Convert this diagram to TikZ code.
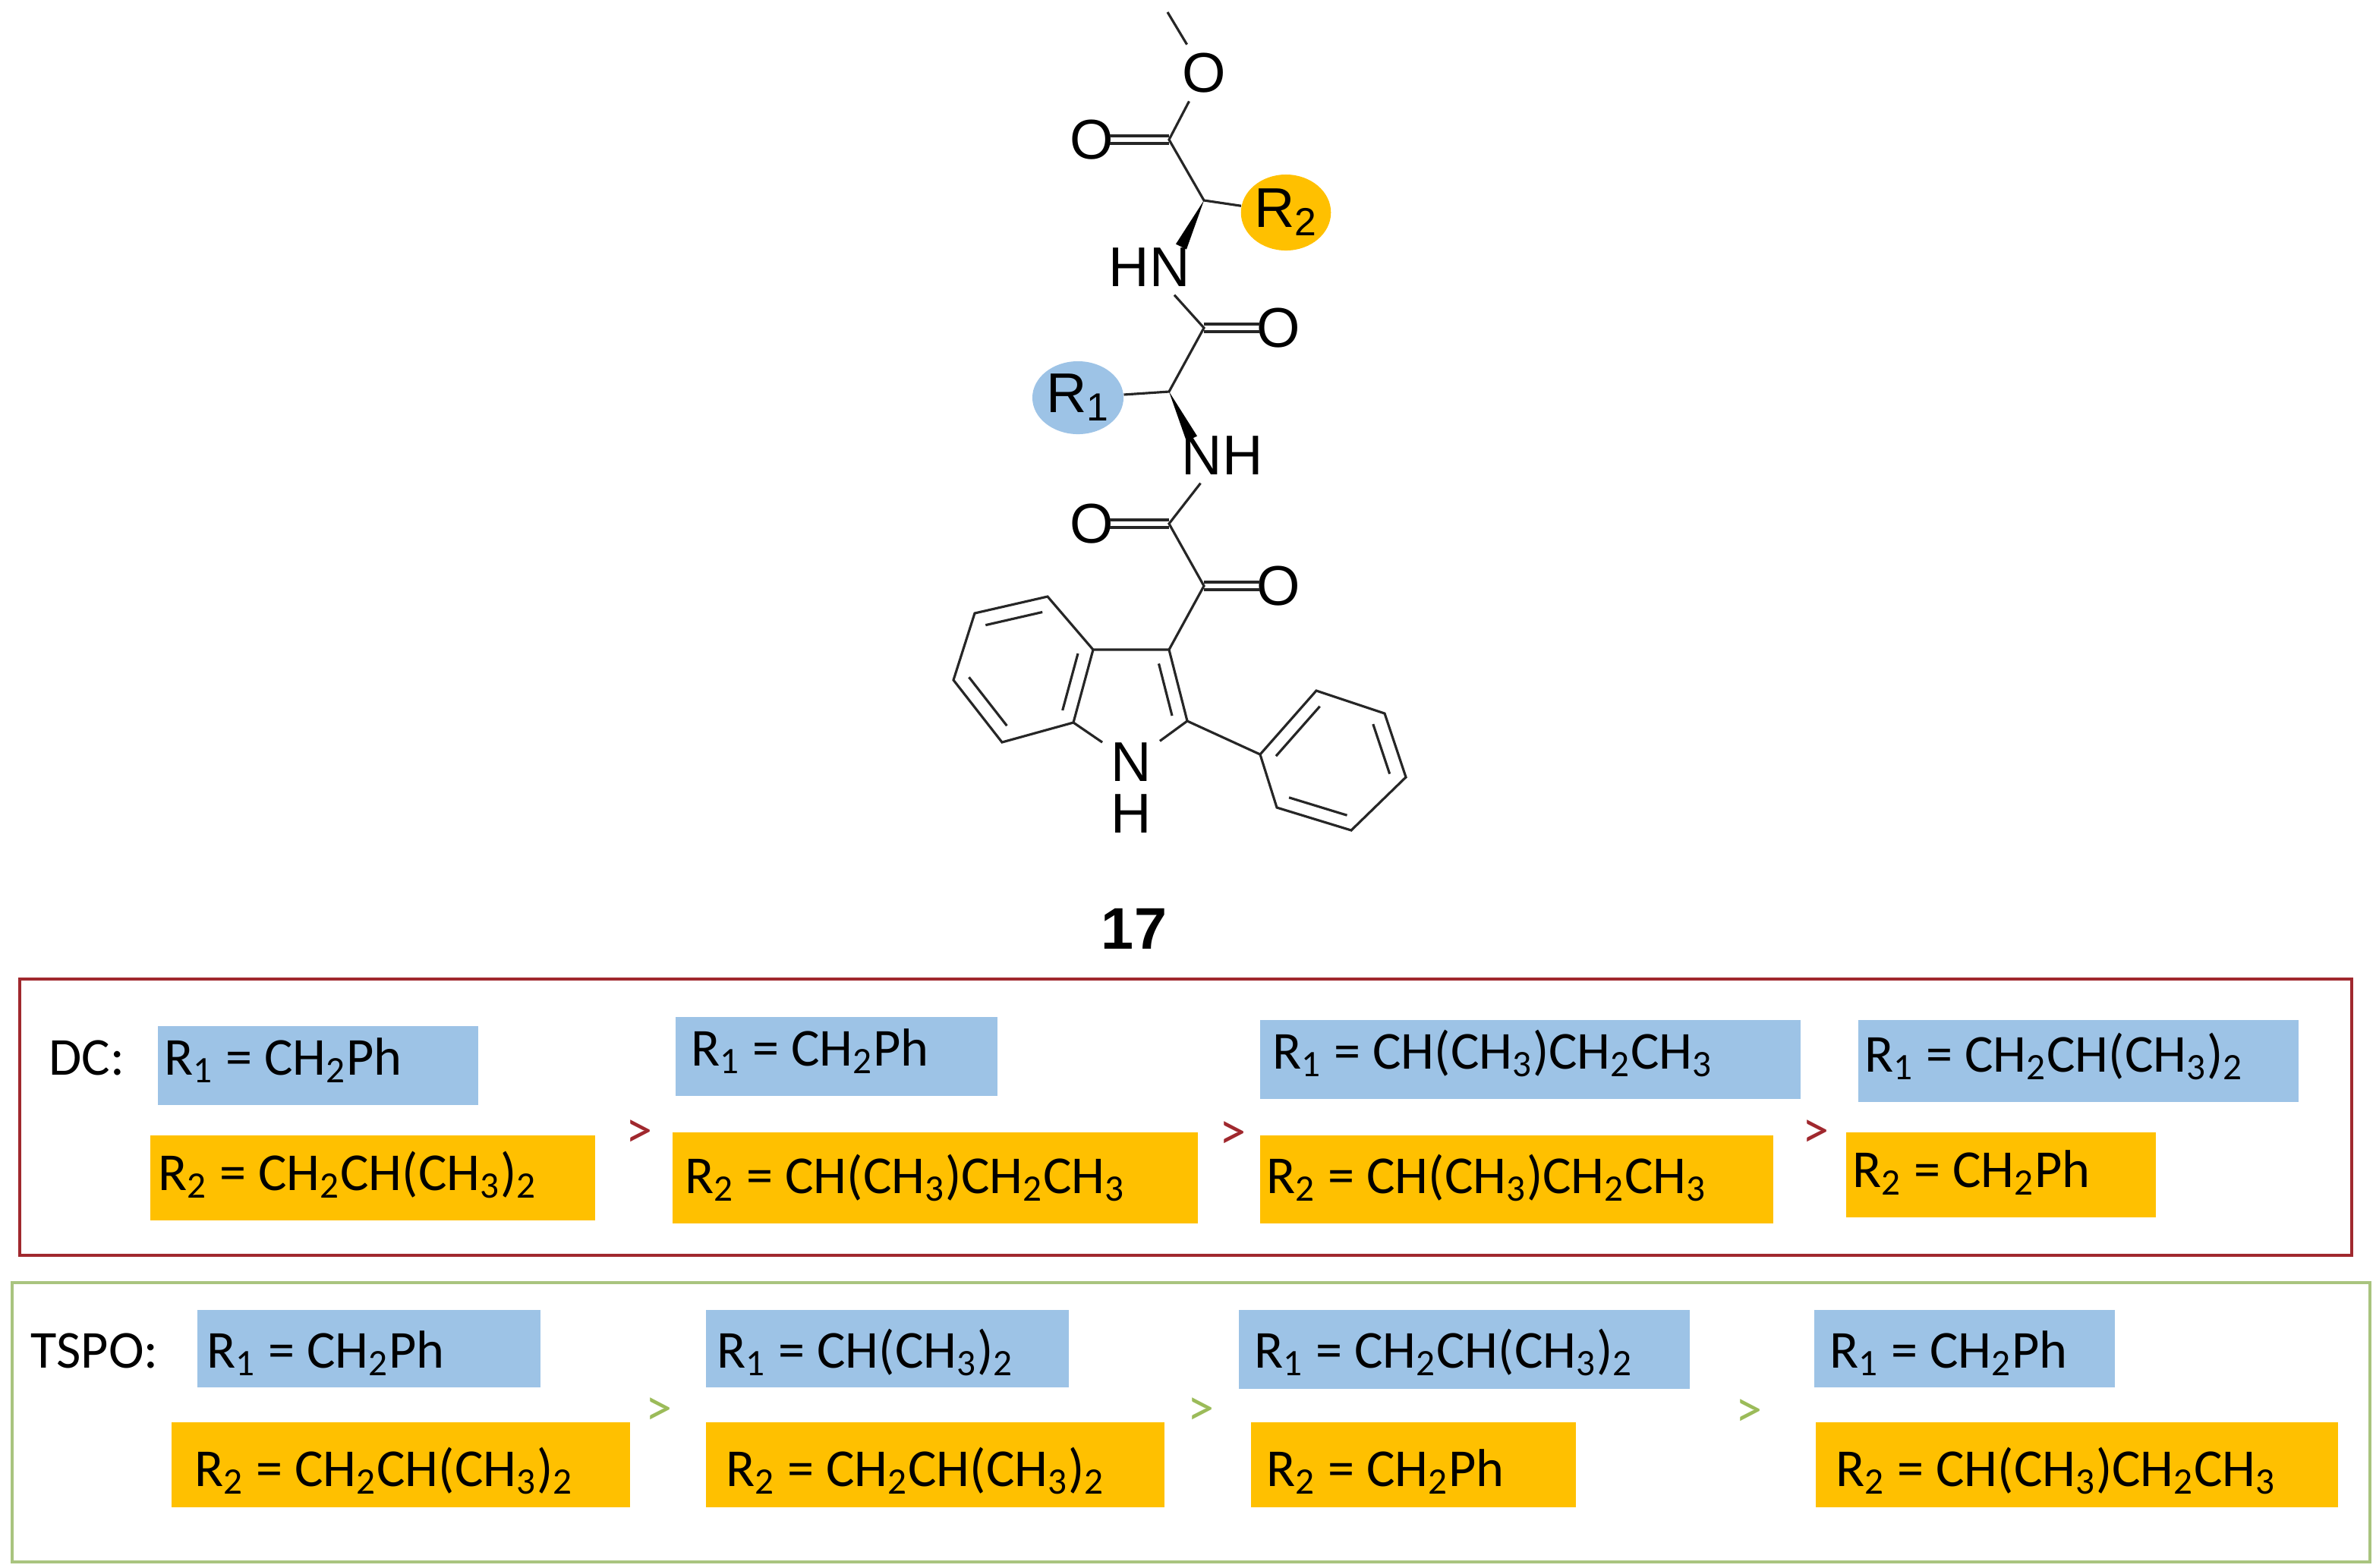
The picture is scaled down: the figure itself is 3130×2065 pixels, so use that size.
\documentclass[tikz,border=0pt]{standalone}
\usepackage{fontspec}
\setmainfont{Carlito}
\newfontfamily\arialf{Liberation Sans}
\usetikzlibrary{calc,shapes.geometric}
\definecolor{bl}{HTML}{9DC3E6}
\definecolor{yl}{HTML}{FFC000}
\definecolor{dcred}{HTML}{A0282E}
\definecolor{gtspo}{HTML}{A9C47F}
\definecolor{gtxt}{HTML}{9BBB59}
\newcommand{\sbs}[1]{\textsubscript{#1}}
\tikzset{
 atom/.style={font=\arialf\fontsize{21}{24}\selectfont,inner sep=3pt},
 bond/.style={line width=0.9pt,black!85},
 boxt/.style={font=\fontsize{20}{24}\selectfont,anchor=base west,inner sep=0pt},
 gt/.style={font=\fontsize{20}{24}\selectfont,inner sep=0pt},
}
\begin{document}
\begin{tikzpicture}[x=0.01cm,y=-0.01cm]
\useasboundingbox (0,0) rectangle (3130,2065);
% ---------- molecule ----------
\coordinate (Me) at (1538,16);
\node[atom] (O1) at (1586,96) {O};
\coordinate (C1) at (1540,184);
\node[atom] (O2) at (1438,184) {O};
\coordinate (Ca2) at (1586,264);
\node[ellipse,fill=yl,minimum width=1.12cm,minimum height=1.0cm,inner sep=0pt,font=\arialf\fontsize{21}{24}\selectfont] (R2) at (1694,280) {R\sbs{2}};
\node[atom] (HN) at (1514,352) {HN};
\coordinate (Cm) at (1586,432);
\node[atom] (O3) at (1684,432) {O};
\coordinate (Ca1) at (1540,516);
\node[ellipse,fill=bl,minimum width=1.2cm,minimum height=0.96cm,inner sep=0pt,font=\arialf\fontsize{21}{24}\selectfont] (R1) at (1420,524) {R\sbs{1}};
\node[atom] (NH) at (1610,600) {NH};
\coordinate (Cx) at (1540,690);
\node[atom] (O4) at (1438,690) {O};
\coordinate (Cy) at (1586,772);
\node[atom] (O5) at (1684,772) {O};
\coordinate (C3) at (1540,856);
\coordinate (C3a) at (1440,856);
\coordinate (C4) at (1380,786);
\coordinate (C5) at (1284,808);
\coordinate (C6) at (1256,896);
\coordinate (C7) at (1320,978);
\coordinate (C7a) at (1414,952);
\node[atom] (N1) at (1490,1004) {N};
\node[atom] (H1) at (1490,1072) {H};
\coordinate (C2) at (1564,950);
\coordinate (P1) at (1660,994);
\coordinate (P2) at (1734,910);
\coordinate (P3) at (1824,940);
\coordinate (P4) at (1852,1024);
\coordinate (P5) at (1780,1094);
\coordinate (P6) at (1682,1064);
\coordinate (cB) at (1349,879);
\coordinate (cP) at (1490,924);
\coordinate (cF) at (1755,1004);
\draw[bond] (Me) -- (O1) -- (C1) -- (Ca2) -- (R2);
\draw[bond] ($(O2)+(24,-5)$) -- ($(C1)+(0,-5)$);
\draw[bond] ($(O2)+(24,5)$) -- ($(C1)+(0,5)$);
\fill[black] (Ca2) -- (1563,328.5) -- (1549,321.5) -- cycle;
\draw[bond] (HN) -- (Cm) -- (Ca1) -- (R1);
\draw[bond] (Cm) ++(0,-5) -- ($(O3)+(-24,-5)$);
\draw[bond] (Cm) ++(0,5) -- ($(O3)+(-24,5)$);
\fill[black] (Ca1) -- (1577,574.5) -- (1563,581.5) -- cycle;
\draw[bond] (NH) -- (Cx) -- (Cy) -- (C3);
\draw[bond] ($(O4)+(24,-5)$) -- ($(Cx)+(0,-5)$);
\draw[bond] ($(O4)+(24,5)$) -- ($(Cx)+(0,5)$);
\draw[bond] ($(Cy)+(0,-5)$) -- ($(O5)+(-24,-5)$);
\draw[bond] ($(Cy)+(0,5)$) -- ($(O5)+(-24,5)$);
\draw[bond] (C3) -- (C3a) -- (C4) -- (C5) -- (C6) -- (C7) -- (C7a) -- (C3a);
\draw[bond] (C7a) -- (N1) -- (C2) -- (C3);
\draw[bond] (C2) -- (P1) -- (P2) -- (P3) -- (P4) -- (P5) -- (P6) -- (P1);
% inner double bonds
\draw[bond] ($(C4)!0.22!(cB)$) -- ($(C5)!0.22!(cB)$);
\draw[bond] ($(C6)!0.22!(cB)$) -- ($(C7)!0.22!(cB)$);
\draw[bond] ($(C3a)!0.22!(cB)$) -- ($(C7a)!0.22!(cB)$);
\draw[bond] ($(C3)!0.27!(cP)$) -- ($(C2)!0.27!(cP)$);
\draw[bond] ($(P1)!0.22!(cF)$) -- ($(P2)!0.22!(cF)$);
\draw[bond] ($(P3)!0.22!(cF)$) -- ($(P4)!0.22!(cF)$);
\draw[bond] ($(P5)!0.22!(cF)$) -- ($(P6)!0.22!(cF)$);
\node[font=\arialf\bfseries\fontsize{22}{26}\selectfont] (n17) at (1494,1224) {17};
% ---------- DC box ----------
\draw[dcred,line width=1pt] (26,1290) rectangle (3098,1654);
\node[boxt] (dc) at (64,1416) {DC:};
\fill[bl] (208,1352) rectangle (630,1456);
\fill[bl] (890,1340) rectangle (1314,1444);
\fill[bl] (1660,1344) rectangle (2372,1448);
\fill[bl] (2448,1344) rectangle (3028,1452);
\fill[yl] (198,1496) rectangle (784,1608);
\fill[yl] (886,1492) rectangle (1578,1612);
\fill[yl] (1660,1496) rectangle (2336,1612);
\fill[yl] (2432,1492) rectangle (2840,1604);
\node[boxt] (d1a) at (216,1416) {R\sbs{1} = CH\sbs{2}Ph};
\node[boxt] (d2a) at (910,1404) {R\sbs{1} = CH\sbs{2}Ph};
\node[boxt] (d3a) at (1676,1408) {R\sbs{1} = CH(CH\sbs{3})CH\sbs{2}CH\sbs{3}};
\node[boxt] (d4a) at (2456,1412) {R\sbs{1} = CH\sbs{2}CH(CH\sbs{3})\sbs{2}};
\node[boxt] (d1b) at (208,1568) {R\sbs{2} = CH\sbs{2}CH(CH\sbs{3})\sbs{2}};
\node[boxt] (d2b) at (902,1572) {R\sbs{2} = CH(CH\sbs{3})CH\sbs{2}CH\sbs{3}};
\node[boxt] (d3b) at (1668,1572) {R\sbs{2} = CH(CH\sbs{3})CH\sbs{2}CH\sbs{3}};
\node[boxt] (d4b) at (2440,1564) {R\sbs{2} = CH\sbs{2}Ph};
\node[gt,text=dcred] (g1) at (842,1494) {>};
\node[gt,text=dcred] (g2) at (1624,1496) {>};
\node[gt,text=dcred] (g3) at (2392,1494) {>};
% ---------- TSPO box ----------
\draw[gtspo,line width=1pt] (16,1690) rectangle (3122,2058);
\node[boxt] (ts) at (40,1802) {TSPO:};
\fill[bl] (260,1726) rectangle (712,1828);
\fill[bl] (930,1726) rectangle (1408,1828);
\fill[bl] (1632,1726) rectangle (2226,1830);
\fill[bl] (2390,1726) rectangle (2786,1828);
\fill[yl] (226,1874) rectangle (830,1986);
\fill[yl] (930,1874) rectangle (1534,1986);
\fill[yl] (1648,1874) rectangle (2076,1986);
\fill[yl] (2392,1874) rectangle (3080,1986);
\node[boxt] (t1a) at (272,1802) {R\sbs{1} = CH\sbs{2}Ph};
\node[boxt] (t2a) at (944,1802) {R\sbs{1} = CH(CH\sbs{3})\sbs{2}};
\node[boxt] (t3a) at (1652,1802) {R\sbs{1} = CH\sbs{2}CH(CH\sbs{3})\sbs{2}};
\node[boxt] (t4a) at (2410,1802) {R\sbs{1} = CH\sbs{2}Ph};
\node[boxt] (t1b) at (256,1958) {R\sbs{2} = CH\sbs{2}CH(CH\sbs{3})\sbs{2}};
\node[boxt] (t2b) at (956,1958) {R\sbs{2} = CH\sbs{2}CH(CH\sbs{3})\sbs{2}};
\node[boxt] (t3b) at (1668,1958) {R\sbs{2} = CH\sbs{2}Ph};
\node[boxt] (t4b) at (2418,1958) {R\sbs{2} = CH(CH\sbs{3})CH\sbs{2}CH\sbs{3}};
\node[gt,text=gtxt] (h1) at (868,1860) {>};
\node[gt,text=gtxt] (h2) at (1582,1860) {>};
\node[gt,text=gtxt] (h3) at (2304,1862) {>};
\end{tikzpicture}
\end{document}
